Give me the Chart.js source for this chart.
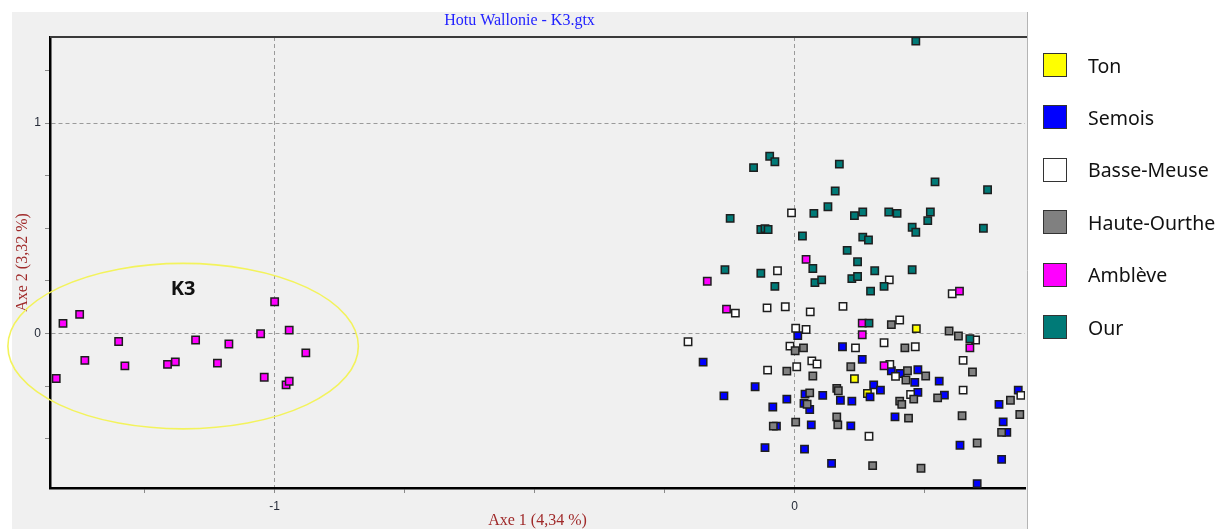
<!DOCTYPE html>
<html>
<head>
<meta charset="utf-8">
<script src="https://cdn.jsdelivr.net/npm/chart.js@4.4.1/dist/chart.umd.min.js"></script>
<style>
html,body{margin:0;padding:0;background:#fff;}
#wrap{position:relative;width:1227px;height:529px;overflow:hidden;}
#c{position:absolute;left:0;top:0;}
#legend{position:absolute;left:1043px;top:53px;font-family:'Noto Sans','Open Sans',sans-serif;font-size:19.5px;color:#111;}
.item{position:absolute;left:0;height:24px;display:flex;align-items:center;white-space:nowrap;}
.sw{width:22px;height:22px;border:1px solid #333;margin-right:21px;box-sizing:content-box;}
</style>
</head>
<body>
<div id="wrap">
<canvas id="c" width="1227" height="529"></canvas>
<div id="legend"></div>
</div>
<script>
// ---- Data ----
const chartTitle = 'Hotu Wallonie - K3.gtx';
const xAxisTitle = 'Axe 1 (4,34 %)';
const yAxisTitle = 'Axe 2 (3,32 %)';
const seriesNames = ['Ton', 'Semois', 'Basse-Meuse', 'Haute-Ourthe', 'Amblève', 'Our'];
const seriesColors = ['#ffff00', '#0000ff', '#ffffff', '#808080', '#ff00ff', '#007a77'];

const xTickValues = [-1.25, -1, -0.75, -0.5, -0.25, 0, 0.25];
const yTickValues = [-0.5, -0.25, 0, 0.25, 0.5, 0.75, 1, 1.25];
const labelledTicks = [-1, 0, 1];
const xRange = [-1.432, 0.443];
const yRange = [-0.734, 1.4086];

const tonX = [0.234, 0.115, 0.140];
const tonY = [0.023, -0.215, -0.285];

const semoisX = [0.006, 0.092, -0.176, 0.130, 0.186, 0.203, 0.237, 0.231, 0.278, -0.076, -0.136, -0.015, -0.042, 0.020, 0.018, 0.029, 0.054, 0.088, 0.110, 0.152, 0.165, 0.145, 0.237, 0.288, 0.393, 0.430, 0.401, 0.408, 0.193, 0.108, -0.035, 0.032, -0.057, 0.019, 0.071, 0.318, 0.398, 0.351];
const semoisY = [-0.010, -0.063, -0.136, -0.123, -0.177, -0.190, -0.172, -0.232, -0.226, -0.253, -0.296, -0.312, -0.349, -0.288, -0.332, -0.361, -0.294, -0.317, -0.321, -0.244, -0.269, -0.301, -0.280, -0.293, -0.337, -0.269, -0.420, -0.470, -0.396, -0.439, -0.440, -0.434, -0.542, -0.549, -0.617, -0.531, -0.598, -0.713];

const basseMeuseX = [-0.006, -0.033, 0.182, 0.303, -0.114, -0.053, -0.018, 0.030, 0.093, 0.202, 0.002, 0.022, 0.348, -0.205, 0.117, 0.172, 0.232, -0.009, -0.052, 0.004, 0.033, 0.043, 0.183, 0.194, 0.324, 0.223, 0.324, 0.435, 0.143];
const basseMeuseY = [0.573, 0.298, 0.255, 0.189, 0.097, 0.122, 0.127, 0.103, 0.129, 0.064, 0.025, 0.019, -0.031, -0.039, -0.068, -0.044, -0.063, -0.060, -0.174, -0.158, -0.130, -0.145, -0.147, -0.204, -0.128, -0.290, -0.269, -0.294, -0.488];

const hauteOurtheX = [0.186, 0.297, 0.315, 0.001, 0.017, 0.212, -0.015, 0.035, 0.108, 0.217, 0.252, 0.214, 0.342, 0.029, 0.024, 0.081, 0.084, 0.202, 0.206, 0.229, 0.275, 0.415, 0.433, 0.398, 0.322, 0.219, 0.081, 0.083, -0.041, 0.002, 0.150, 0.243, 0.351];
const hauteOurtheY = [0.042, 0.012, -0.012, -0.082, -0.068, -0.068, -0.179, -0.202, -0.158, -0.177, -0.202, -0.221, -0.183, -0.282, -0.336, -0.261, -0.272, -0.321, -0.337, -0.312, -0.306, -0.317, -0.385, -0.470, -0.391, -0.402, -0.396, -0.434, -0.440, -0.421, -0.628, -0.640, -0.520];

const ambleveX = [-1.407, -1.375, -1.420, -1.365, -1.300, -1.288, -1.206, -1.191, -1.152, -1.110, -1.088, -1.027, -1.000, -0.972, -0.940, -1.020, -0.978, -0.972, 0.022, -0.168, 0.317, -0.131, 0.130, 0.130, 0.337, 0.172];
const ambleveY = [0.048, 0.091, -0.214, -0.128, -0.038, -0.154, -0.147, -0.135, -0.031, -0.141, -0.050, -0.001, 0.151, 0.016, -0.092, -0.208, -0.244, -0.227, 0.352, 0.248, 0.201, 0.116, 0.049, -0.006, -0.068, -0.153];

const ourX = [0.233, -0.048, -0.038, -0.079, 0.086, 0.270, 0.371, 0.078, -0.124, 0.037, 0.064, 0.115, 0.131, 0.181, 0.197, 0.261, 0.256, -0.065, -0.057, -0.051, 0.226, 0.233, 0.363, 0.015, 0.131, 0.142, 0.101, 0.121, 0.035, -0.134, -0.065, 0.154, 0.226, 0.039, 0.052, 0.110, 0.121, 0.172, -0.038, 0.146, 0.143, 0.337];
const ourY = [1.389, 0.842, 0.816, 0.788, 0.805, 0.720, 0.683, 0.677, 0.547, 0.571, 0.602, 0.560, 0.577, 0.577, 0.571, 0.577, 0.536, 0.494, 0.498, 0.494, 0.505, 0.481, 0.500, 0.463, 0.458, 0.444, 0.395, 0.341, 0.309, 0.303, 0.286, 0.298, 0.303, 0.242, 0.255, 0.261, 0.271, 0.224, 0.224, 0.201, 0.049, -0.025];

// Cluster annotation (data units)
const clusterLabel = 'K3';
const clusterCenter = [-1.176, -0.060];
const clusterRadii = [0.337, 0.393];
const clusterLabelPos = [-1.176, 0.212];

// ---- Build ----
const seriesX = [tonX, semoisX, basseMeuseX, hauteOurtheX, ambleveX, ourX];
const seriesY = [tonY, semoisY, basseMeuseY, hauteOurtheY, ambleveY, ourY];

const datasets = seriesNames.map((name, i) => ({
  label: name,
  data: seriesX[i].map((x, j) => ({x: x, y: seriesY[i][j]})),
  backgroundColor: seriesColors[i],
  borderColor: '#1e1e1e',
  borderWidth: 1.5,
  pointStyle: 'rect',
  pointRadius: 5.2,
  pointHoverRadius: 5.2,
  order: seriesNames.length - 1 - i
}));

// Legend (HTML)
const leg = document.getElementById('legend');
seriesNames.forEach((name, i) => {
  const it = document.createElement('div');
  it.className = 'item';
  it.style.top = (i * 52.4) + 'px';
  const sw = document.createElement('div');
  sw.className = 'sw';
  sw.style.background = seriesColors[i];
  const tx = document.createElement('span');
  tx.textContent = name;
  it.appendChild(sw); it.appendChild(tx);
  leg.appendChild(it);
});

const panelPlugin = {
  id: 'panel',
  beforeDraw(chart) {
    const {ctx, chartArea: a} = chart;
    ctx.save();
    ctx.fillStyle = '#ffffff';
    ctx.fillRect(0, 0, chart.width, chart.height);
    ctx.fillStyle = '#f0f0f0';
    ctx.fillRect(12, 12, a.right + 2 - 12, chart.height - 12);
    ctx.strokeStyle = '#b4b4b4';
    ctx.lineWidth = 1;
    ctx.beginPath();
    ctx.moveTo(a.right + 2.5, 12);
    ctx.lineTo(a.right + 2.5, chart.height);
    ctx.stroke();
    ctx.restore();
  },
  beforeDatasetsDraw(chart) {
    const {ctx, scales: {x, y}, chartArea: a} = chart;
    ctx.save();
    // top frame line
    ctx.strokeStyle = '#3a3a3a';
    ctx.lineWidth = 2;
    ctx.beginPath();
    ctx.moveTo(a.left, a.top);
    ctx.lineTo(a.right + 2, a.top);
    ctx.stroke();
    // cluster ellipse
    const cx = x.getPixelForValue(clusterCenter[0]);
    const cy = y.getPixelForValue(clusterCenter[1]);
    const rx = Math.abs(x.getPixelForValue(clusterCenter[0] + clusterRadii[0]) - cx);
    const ry = Math.abs(y.getPixelForValue(clusterCenter[1] + clusterRadii[1]) - cy);
    ctx.strokeStyle = '#f3f35c';
    ctx.lineWidth = 1.6;
    ctx.beginPath();
    ctx.ellipse(cx, cy, rx, ry, 0, 0, Math.PI * 2);
    ctx.stroke();
    ctx.fillStyle = '#111';
    ctx.font = 'bold 20px "Noto Sans", sans-serif';
    ctx.textAlign = 'center';
    ctx.textBaseline = 'middle';
    ctx.fillText(clusterLabel, x.getPixelForValue(clusterLabelPos[0]), y.getPixelForValue(clusterLabelPos[1]));
    ctx.restore();
  }
};

const tickFont = {family: '"Liberation Sans", Arial, sans-serif', size: 12};
const serifFont = {family: '"Liberation Serif", "Times New Roman", serif', size: 16, weight: 'normal'};

function gridColor(c) {
  return (c.tick && labelledTicks.includes(c.tick.value)) ? '#9a9a9a' : 'rgba(0,0,0,0)';
}
function tickLabel(v) {
  return labelledTicks.includes(v) ? String(v) : '';
}

new Chart(document.getElementById('c'), {
  type: 'scatter',
  data: {datasets: datasets},
  plugins: [panelPlugin],
  options: {
    responsive: false,
    animation: false,
    devicePixelRatio: 1,
    layout: {padding: {left: 14, right: 202, top: 0, bottom: 0}},
    plugins: {
      legend: {display: false},
      tooltip: {enabled: false},
      title: {
        display: true,
        text: chartTitle,
        color: '#2222ff',
        font: serifFont,
        padding: {top: 11, bottom: 6.8}
      }
    },
    scales: {
      x: {
        type: 'linear',
        min: xRange[0],
        max: xRange[1],
        afterBuildTicks(s) { s.ticks = xTickValues.map(v => ({value: v})); },
        afterFit(s) { s.height = 41; },
        ticks: {callback: tickLabel, font: tickFont, color: '#252b38', padding: 6, maxRotation: 0, autoSkip: false},
        grid: {color: gridColor, lineWidth: 1, tickLength: 5, tickColor: '#8a8a8a', tickBorderDash: []},
        border: {display: true, color: '#000', width: 2.5, dash: [4, 3]},
        title: {display: true, text: xAxisTitle, color: '#a02a2a', font: serifFont, padding: {top: 0, bottom: -1}}
      },
      y: {
        type: 'linear',
        min: yRange[0],
        max: yRange[1],
        afterBuildTicks(s) { s.ticks = yTickValues.map(v => ({value: v})); },
        afterFit(s) { s.width = 36; },
        ticks: {callback: tickLabel, font: tickFont, color: '#252b38', padding: 4, autoSkip: false},
        grid: {color: gridColor, lineWidth: 1, tickLength: 5, tickColor: '#8a8a8a', tickBorderDash: []},
        border: {display: true, color: '#000', width: 2.5, dash: [4, 3]},
        title: {display: true, text: yAxisTitle, color: '#a02a2a', font: serifFont, padding: {top: -1, bottom: 0}}
      }
    }
  }
});
</script>
</body>
</html>
